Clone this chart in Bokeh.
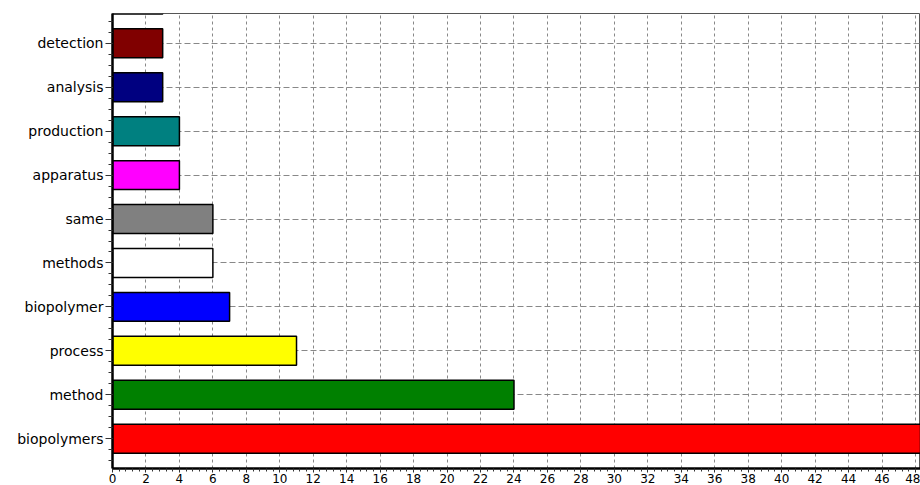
from bokeh.plotting import figure
from bokeh.models import ColumnDataSource, FixedTicker, SingleIntervalTicker, Range1d
from bokeh.embed import file_html
from bokeh.resources import INLINE

# data (bottom to top); last entry is a bar cut off above the plot frame
categories = ["biopolymers", "method", "process", "biopolymer", "methods",
              "same", "apparatus", "production", "analysis", "detection", ""]
values = [50, 24, 11, 7, 6, 6, 4, 4, 3, 3, 3]
colors = ["#FF0000", "#008000", "#FFFF00", "#0000FF", "#FFFFFF",
          "#808080", "#FF00FF", "#008080", "#000080", "#800000", "#FFFFFF"]
x_tick_step = 2

n_visible = 10
positions = list(range(len(categories)))

source = ColumnDataSource(dict(y=positions, value=values, color=colors,
                               name=categories))

p = figure(width=920, height=485, output_backend="svg", toolbar_location=None,
           x_range=Range1d(0, 48.3), y_range=Range1d(-0.68, n_visible - 1 + 0.68),
           min_border_left=112, min_border_right=0, min_border_top=13,
           min_border_bottom=0)

p.hbar(y="y", right="value", left=0, height=0.66, source=source,
       fill_color="color", line_color="black", line_width=1.5)

FONT = "DejaVu Sans"

# y axis
yax = p.yaxis[0]
yax.ticker = FixedTicker(ticks=positions[:n_visible],
                         minor_ticks=[i / 4 - 0.5 for i in range(0, 4 * n_visible + 3)])
yax.major_label_overrides = {i: categories[i] for i in range(n_visible)}
yax.axis_line_color = "black"
yax.axis_line_width = 2.5
yax.major_tick_out = 7
yax.major_tick_in = 0
yax.minor_tick_out = 4
yax.minor_tick_in = 0
yax.major_tick_line_color = "#333333"
yax.minor_tick_line_color = "#333333"
yax.major_label_text_font = FONT
yax.major_label_text_font_size = "14px"
yax.major_label_text_color = "#000000"
yax.major_label_standoff = 2

# x axis
xax = p.xaxis[0]
xax.ticker = SingleIntervalTicker(interval=x_tick_step, num_minor_ticks=5)
xax.axis_line_color = "black"
xax.axis_line_width = 2.5
xax.major_tick_out = 4
xax.major_tick_in = 0
xax.minor_tick_out = 3
xax.minor_tick_in = 0
xax.major_tick_line_color = "#333333"
xax.minor_tick_line_color = "#333333"
xax.major_label_text_font = FONT
xax.major_label_text_font_size = "12px"
xax.major_label_text_color = "#000000"
xax.major_label_standoff = 1

# grids
p.xgrid.grid_line_color = "#888888"
p.xgrid.grid_line_dash = "3 3"
p.xgrid.grid_line_width = 1
p.ygrid.grid_line_color = "#888888"
p.ygrid.grid_line_dash = "6 3"
p.ygrid.grid_line_width = 1

p.outline_line_color = "#555555"
p.outline_line_width = 1
p.background_fill_color = "white"
p.border_fill_color = "white"

open("out.html", "w").write(file_html(p, INLINE))
